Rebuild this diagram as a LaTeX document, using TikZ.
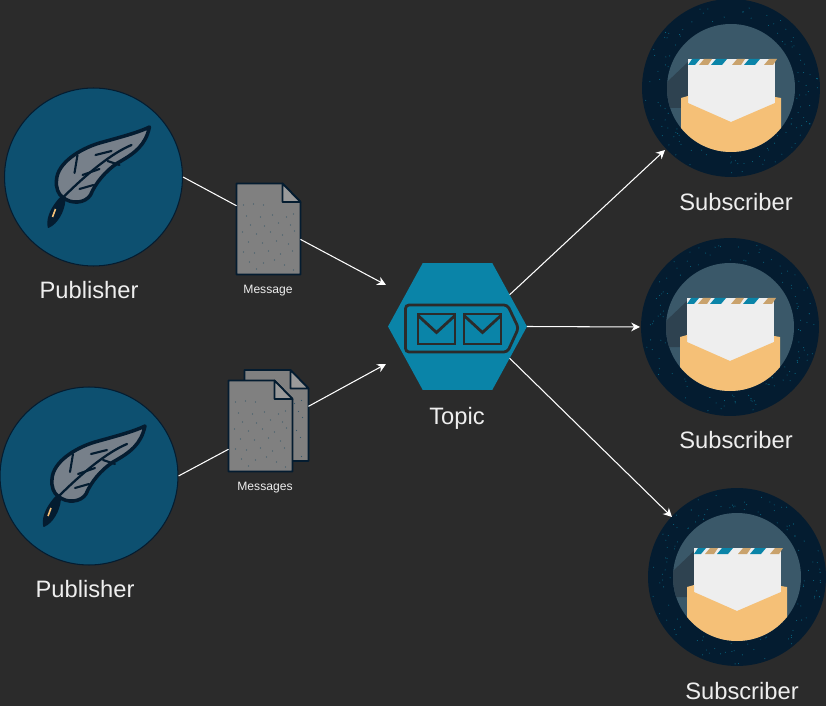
\documentclass[tikz,border=0pt]{standalone}
\usepackage{fontspec}
\setmainfont{Liberation Sans}
\usetikzlibrary{arrows.meta,shapes.geometric}
\definecolor{bgdark}{HTML}{2B2B2B}
\definecolor{navy}{HTML}{041C30}
\definecolor{discblue}{HTML}{0D5070}
\definecolor{topicblue}{HTML}{0A84A8}
\definecolor{ringblue}{HTML}{3A5869}
\definecolor{shadeblue}{HTML}{2E4250}
\definecolor{docgray}{HTML}{808080}
\definecolor{plumegray}{HTML}{77808A}
\definecolor{foldgray}{HTML}{9A9A9A}
\definecolor{flapgold}{HTML}{F5C077}
\definecolor{paper}{HTML}{EEEEEE}
\definecolor{stripegold}{HTML}{C9A26C}
\tikzset{
  pubdisc/.style={circle, draw=navy, fill=discblue, line width=0.6pt, minimum size=3.56cm, inner sep=0pt},
  subdisc/.style={circle, fill=navy, minimum size=3.56cm, inner sep=0pt},
  topicbox/.style={regular polygon, regular polygon sides=6, fill=topicblue, minimum size=2.78cm, inner sep=0pt, outer sep=0pt, yscale=1.055, transform shape},
  docbox/.style={rectangle, minimum width=1.28cm, minimum height=1.82cm, inner sep=0pt, outer sep=0pt},
  biglbl/.style={text=paper, font=\fontsize{13.5}{16}\selectfont, inner sep=0pt},
  smalllbl/.style={text=paper, font=\fontsize{6.9}{8}\selectfont, inner sep=0pt},
  wire/.style={white, line width=0.6pt},
  wirearrow/.style={wire, -{Stealth[length=5pt,width=5pt]}},
  doc/.pic={
    \draw[navy, line width=1pt, fill=docgray, line join=round] (-32,-45.5) -- (14,-45.5) -- (32,-27) -- (32,45.5) -- (-32,45.5) -- cycle;
    \draw[navy, line width=1pt, fill=foldgray, line join=round] (14,-45.5) -- (14,-27) -- (32,-27) -- cycle;
    \foreach \dx/\dy in {-25/-24,-15/-25,-5/-24,-22/-13,-8/-12,4/-14,18/-12,25/-15,-18/-4,-4/-3,10/-6,22/-4,-26/3,-12/5,2/3,14/6,26/2,-20/13,-6/14,8/12,20/15,-25/23,-14/24,0/22,12/25,24/22,-19/33,-5/34,6/31,16/36,-12/40,25/41}
      \fill[ringblue] (\dx,\dy) circle (0.35pt);
  },
  feather/.pic={
    \draw[navy, line width=2pt, line join=round, fill=plumegray]
      (56,-50) .. controls (44,-44) and (20,-38) .. (6,-34)
      .. controls (-14,-28) and (-36,-14) .. (-37,3)
      .. controls (-38,10) and (-35,18) .. (-31,20)
      .. controls (-22,28) and (-8,26) .. (-3,18)
      .. controls (2,6) and (12,-6) .. (24,-14)
      .. controls (42,-24) and (52,-32) .. (56,-50) -- cycle;
    \draw[navy, line width=1.3pt, line cap=round] (-31,21) .. controls (-14,4) and (14,-22) .. (38,-32);
    \draw[navy, line width=1.2pt, line cap=round] (-19,-4) -- (-16,-22) (-11,-2) -- (6,-8) (-14,12) -- (0,8) (2,-22) -- (18,-26) (14,-16) -- (26,-12);
    \draw[navy, line width=1pt, line join=round, fill=navy] (-32,20) .. controls (-40,28) and (-47,40) .. (-45,50) .. controls (-36,46) and (-30,34) .. (-29,24) -- cycle;
    \draw[flapgold, line width=0.9pt] (-38,32) -- (-41,40);
  },
  inbox/.pic={
    \fill[ringblue] (0,0) circle (64);
    \begin{scope}
      \clip (0,0) circle (64);
      \fill[shadeblue] (-43,-26) -- (-64,-6) -- (-64,20) -- (-43,20) -- cycle;
      \fill[paper] (-43,-29) rectangle (44,36);
      \fill[topicblue] (-43,-23) -- (-39,-29) -- (-31,-29) -- (-36,-23) -- cycle;
      \foreach \sx in {-4,29}
        \fill[topicblue] (\sx-16,-23) -- (\sx-11,-29) -- (\sx,-29) -- (\sx-5,-23) -- cycle;
      \foreach \sx in {-21,12,44}
        \fill[stripegold] (\sx-11,-23) -- (\sx-6,-29) -- (\sx+2,-29) -- (\sx-2,-23) -- cycle;
      \fill[flapgold] (-50,10) -- (-43,8) -- (-43,15) -- (0,34) -- (44,15) -- (44,9) -- (50,10) -- (50,70) -- (-50,70) -- cycle;
    \end{scope}
    \foreach \i in {1,...,110}{
      \pgfmathsetmacro\ang{rnd*360}
      \pgfmathsetmacro\rad{66+rnd*21}
      \fill[topicblue!80!black] (\ang:\rad) circle (0.3pt);
    }
  },
  tagicon/.pic={
    \draw[bgdark, line width=1.6pt, rounded corners=2pt] (-52,-21.5) -- (50,-21.5) -- (61,1.5) -- (50,25.5) -- (-52,25.5) -- cycle;
    \foreach \ex in {-21,25}{
      \draw[bgdark, line width=1.6pt] (\ex-18.5,-12.5) rectangle (\ex+18.5,17.5);
      \draw[bgdark, line width=1.6pt] (\ex-18.5,-11) -- (\ex,6) -- (\ex+18.5,-11);
    }
  }
}
\begin{document}
\begin{tikzpicture}[x=0.02cm, y=-0.02cm]
  \pgfmathsetseed{42}
  \useasboundingbox (0,0) rectangle (826,706);
  \fill[bgdark] (-3,-3) rectangle (829,709);

  \node[pubdisc] (pub1) at (93.5,177) {};
  \node[pubdisc] (pub2) at (89,476) {};
  \pic at (pub1) {feather};
  \pic at (pub2) {feather};
  \node[biglbl] (publbl1) at (89,290) {Publisher};
  \node[biglbl] (publbl2) at (85,589) {Publisher};

  \node[docbox] (msg) at (268.5,229) {};
  \pic at (msg) {doc};
  \node[smalllbl] (msglbl) at (268,291) {Message};

  \node[docbox] (back) at (276.5,415.5) {};
  \node[docbox] (front) at (260.5,426) {};
  \pic at (back) {doc};
  \pic at (front) {doc};
  \node[smalllbl] (msgslbl) at (265,488) {Messages};

  \node[topicbox] (topic) at (457.5,326.5) {};
  \pic at (topic) {tagicon};
  \node[biglbl] (topiclbl) at (457,418) {Topic};

  \node[subdisc] (sub1) at (731,88) {};
  \node[subdisc] (sub2) at (730,327) {};
  \node[subdisc] (sub3) at (737,577) {};
  \pic at (sub1) {inbox};
  \pic at (sub2) {inbox};
  \pic at (sub3) {inbox};
  \node[biglbl] (sublbl1) at (736,202) {Subscriber};
  \node[biglbl] (sublbl2) at (736,440) {Subscriber};
  \node[biglbl] (sublbl3) at (742,691) {Subscriber};

  % free arrow ends stop short of their targets
  \coordinate (in1) at (386,285);
  \coordinate (in2) at (386,364);
  \coordinate (out1) at (665,150);
  \coordinate (out2) at (640,327);
  \coordinate (out3) at (672,517);

  \draw[wire] (pub1.east) -- (msg.144);
  \draw[wirearrow] (msg.-18) -- (in1);
  \draw[wire] (pub2.east) -- (front.216);
  \draw[wirearrow] (back.16) -- (in2);
  \draw[wirearrow] (topic.side 6) -- (out1);
  \draw[wirearrow] (topic.corner 6) -- (out2);
  \draw[wirearrow] (topic.side 5) -- (out3);
\end{tikzpicture}
\end{document}
